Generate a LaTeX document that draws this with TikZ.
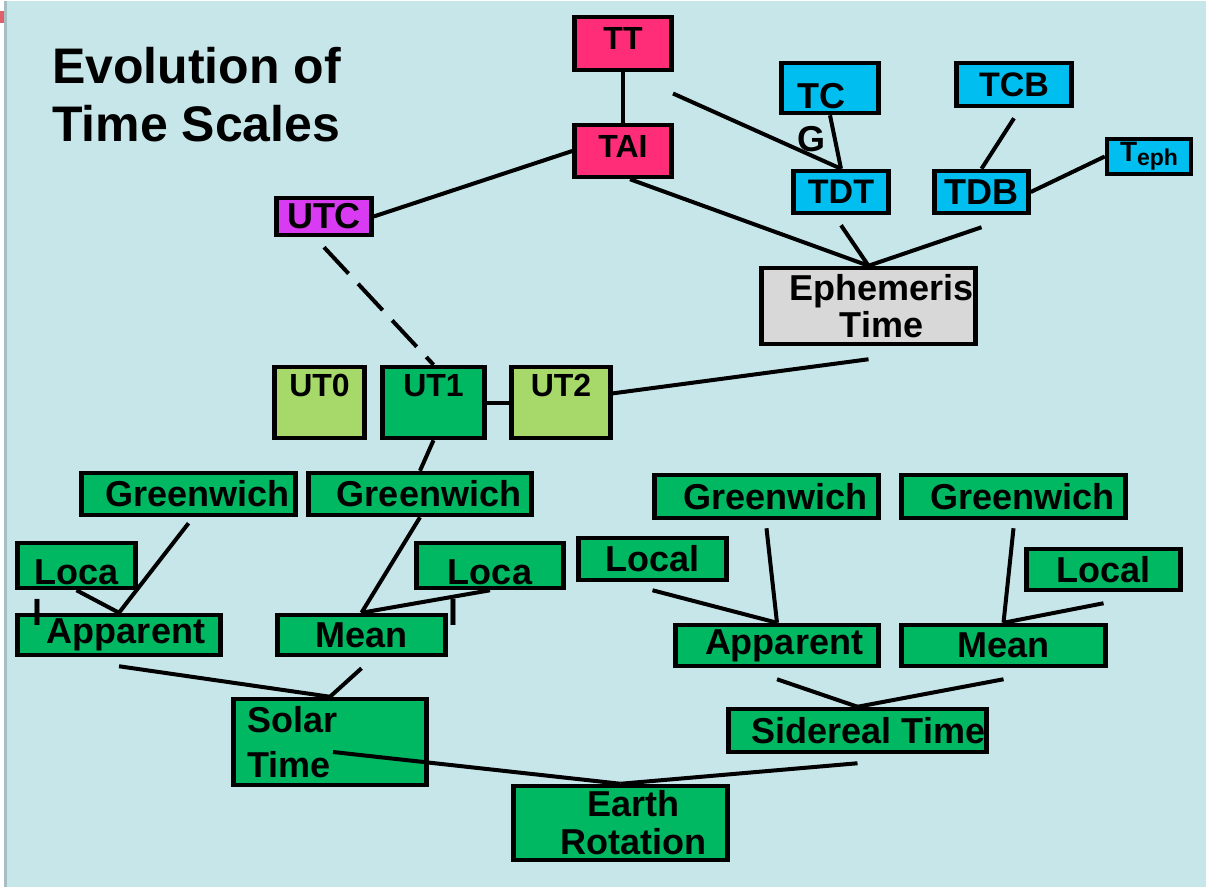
\documentclass[tikz,border=0pt]{standalone}
\usepackage{fontspec}
\setmainfont{Liberation Sans}
\usepackage{xcolor}
\definecolor{bgblue}{HTML}{C6E6EA}
\definecolor{ttpink}{HTML}{FF2D78}
\definecolor{tcblue}{HTML}{00BEF0}
\definecolor{utcpurple}{HTML}{D93BF2}
\definecolor{etgray}{HTML}{D8D8D8}
\definecolor{utlight}{HTML}{A6D86A}
\definecolor{rotgreen}{HTML}{00B862}
\definecolor{edgegray}{HTML}{A7BFC3}
\definecolor{edgered}{HTML}{E0606A}
\usetikzlibrary{positioning}

\begin{document}
\begin{tikzpicture}[x=1pt,y=-1pt,line width=4pt,
    box/.style={draw,line width=4.5pt,inner sep=0pt,font=\fontsize{36}{43}\selectfont\bfseries},
    tbox/.style={box,fill=ttpink,font=\fontsize{32}{38}\selectfont\bfseries,text height=23pt,text depth=10pt},
    cbox/.style={box,fill=tcblue},
    gbox/.style={box,fill=rotgreen},
    ubox/.style={box,font=\fontsize{32}{38}\selectfont\bfseries,text height=23pt,text depth=36pt},
    loose/.style={inner sep=0pt,font=\fontsize{36}{43}\selectfont\bfseries}]
    \fill[bgblue] (0,0) rectangle (1206,885);
    \fill[white] (0,0) rectangle (4,885);
    \draw[edgegray,line width=3pt] (5.5,0) -- (5.5,885);
    \fill[edgered] (0,10) rectangle (4,22);

    \node[anchor=north west,inner sep=0pt,align=left,font=\fontsize{50}{58}\selectfont\bfseries] (title) at (50,44) {Evolution of\\Time Scales};

    \node[tbox,minimum width=97pt,minimum height=53pt] (tt) at (623,42) {TT};
    \node[tbox,minimum width=97pt,minimum height=52pt] (tai) at (623,149.5) {TAI};
    \node[cbox,minimum width=97pt,minimum height=50pt,text height=42pt] (tc) at (830,86.5) {TC\hspace*{18pt}};
    \node[loose] (tcg) at (811,138) {G};
    \node[cbox,minimum width=115pt,minimum height=43pt,font=\fontsize{34}{40}\selectfont\bfseries] (tcb) at (1014,83) {TCB};
    \node[cbox,minimum width=95pt,minimum height=42pt,font=\fontsize{34}{40}\selectfont\bfseries] (tdt) at (841,190.5) {TDT};
    \node[cbox,minimum width=94pt,minimum height=42pt] (tdb) at (981.5,190.5) {TDB};
    \node[cbox,minimum width=84pt,minimum height=35pt,font=\fontsize{28}{32}\selectfont\bfseries] (teph) at (1149,155) {T\raisebox{-4pt}{\fontsize{23}{25}\selectfont eph}};
    \node[box,fill=utcpurple,minimum width=95pt,minimum height=37pt] (utc) at (324,215) {UTC};
    \node[box,fill=etgray,minimum width=214pt,minimum height=76pt,align=center,font=\fontsize{36}{37}\selectfont\bfseries] (ephem) at (868.5,304.5) {\hspace*{26pt}Ephemeris\\\hspace*{26pt}Time};

    \node[ubox,fill=utlight,minimum width=90pt,minimum height=71pt] (ut0) at (319.5,401) {UT0};
    \node[ubox,fill=rotgreen,minimum width=102pt,minimum height=71pt] (ut1) at (433.5,401) {UT1};
    \node[ubox,fill=utlight,minimum width=99pt,minimum height=71pt] (ut2) at (561,401) {UT2};

    \node[gbox,minimum width=214pt,minimum height=42pt] (g1) at (188.5,492.5) {\hspace*{18pt}Greenwich};
    \node[gbox,minimum width=223pt,minimum height=42pt] (g2) at (420,492.5) {\hspace*{18pt}Greenwich};
    \node[gbox,minimum width=224pt,minimum height=43pt] (g3) at (766.5,495) {\hspace*{18pt}Greenwich};
    \node[gbox,minimum width=224pt,minimum height=43pt] (g4) at (1013.5,495) {\hspace*{18pt}Greenwich};

    \node[gbox,minimum width=118pt,minimum height=45pt,text height=38pt] (lo1) at (76.5,564) {Loca};
    \node[gbox,minimum width=147pt,minimum height=45pt,text height=38pt] (lo2) at (490,564) {Loca};
    \node[gbox,minimum width=148pt,minimum height=42pt] (lo3) at (652.5,557.5) {Local};
    \node[gbox,minimum width=154pt,minimum height=41pt] (lo4) at (1103.5,568) {Local};

    \node[gbox,minimum width=203pt,minimum height=40pt] (ap1) at (119,633.5) {\hspace*{14pt}Apparent};
    \node[gbox,minimum width=168pt,minimum height=40pt] (me1) at (361.5,633.5) {Mean};
    \node[gbox,minimum width=203pt,minimum height=41pt] (ap2) at (777,644) {\hspace*{14pt}Apparent};
    \node[gbox,minimum width=204pt,minimum height=41pt] (me2) at (1003.5,644) {Mean};

    \node[gbox,minimum height=86pt,text width=165pt,inner xsep=14pt,align=left,font=\fontsize{36}{45}\selectfont\bfseries] (solar) at (330,740.5) {Solar\\Time};
    \node[gbox,minimum width=258pt,minimum height=43pt] (sid) at (857.5,729) {\hspace*{22pt}Sidereal Time};
    \node[gbox,minimum width=214pt,minimum height=74pt,align=center,font=\fontsize{36}{38}\selectfont\bfseries] (earth) at (620.5,821.5) {\hspace*{26pt}Earth\\\hspace*{26pt}Rotation};

    \node[loose] (l1) at (38,611) {l};
    \node[loose] (l2) at (453,611) {l};

    \coordinate (ttx) at (673,92);
    \draw (tt) -- (tai);
    \draw (ttx) -- (tdt.north);
    \draw (tc.south) -- (tdt.north);
    \draw ([yshift=-10pt]tcb.south) -- (tdb.north);
    \draw (tdb.east) -- (teph.west);
    \draw (utc.east) -- (tai.west);
    \draw ([xshift=7pt]tai.south) -- (ephem.north);
    \draw ([yshift=-10pt]tdt.south) -- (ephem.north);
    \draw ([yshift=-12pt]tdb.south) -- (ephem.north);
    \draw[dash pattern=on 36pt off 14pt] ([yshift=-10pt]utc.south) -- (ut1.north);
    \draw (ut1.east) -- (ut2.west);
    \draw (ut2.10) -- ([yshift=-13pt]ephem.south);
    \draw (ut1.south) -- (g2.north);
    \draw ([yshift=-6pt]g1.south) -- (ap1.north);
    \draw (lo1.south) -- (ap1.north);
    \draw (g2.south) -- (me1.north);
    \draw (lo2.south) -- (me1.north);
    \draw ([yshift=-9pt]ap1.south) -- (solar.north);
    \draw ([yshift=-11pt]me1.south) -- (solar.north);
    \draw ([xshift=3pt,yshift=-10pt]solar.center) -- (earth.north);
    \draw ([yshift=-9pt]sid.south) -- (earth.north);
    \draw ([yshift=-8pt]lo3.south) -- (ap2.north);
    \draw ([yshift=-8pt]g3.south) -- (ap2.north);
    \draw ([yshift=-8pt]g4.south) -- (me2.north);
    \draw ([yshift=-11pt]lo4.south) -- (me2.north);
    \draw ([yshift=-11pt]ap2.south) -- (sid.north);
    \draw ([yshift=-11pt]me2.south) -- (sid.north);
\end{tikzpicture}
\end{document}
